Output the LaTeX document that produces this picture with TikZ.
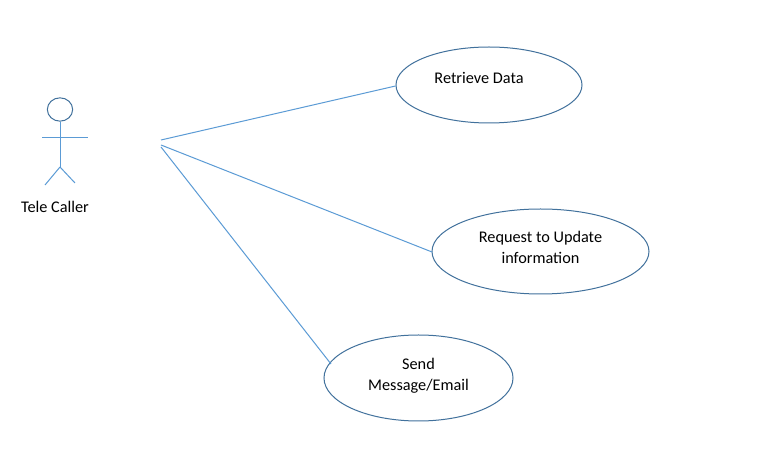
\documentclass[tikz,border=0pt]{standalone}
\usepackage{fontspec}
\setmainfont{Carlito}
\usetikzlibrary{shapes.geometric}
\definecolor{linecol}{HTML}{5B9BD5}
\definecolor{ellcol}{HTML}{41719C}
\tikzset{
  x=0.75pt,y=-0.75pt,
  usecase/.style={ellipse,draw=ellcol,line width=0.75pt,fill=white,inner sep=0pt,align=center,font=\fontsize{12.2pt}{15.75pt}\selectfont,text=black},
  conn/.style={draw=linecol,line width=0.75pt},
  stick/.style={draw=linecol,line width=0.75pt}
}
\begin{document}
\begin{tikzpicture}
\useasboundingbox[fill=white] (0,0) rectangle (758,466);
\node[usecase,minimum width=139.5pt,minimum height=57pt] (retrieve) at (489,85) {\raisebox{11pt}{Retrieve Data\hspace{15pt}}};
\node[usecase,minimum width=162.75pt,minimum height=63.75pt] (update) at (540.5,251.5) {\raisebox{5.5pt}{Request to Update}\\\raisebox{5.5pt}{information}};
\node[usecase,minimum width=141.75pt,minimum height=64.5pt] (send) at (418.5,378) {\raisebox{6pt}{Send}\\\raisebox{6pt}{Message/Email}};
\node[ellipse,draw=ellcol,line width=0.75pt,minimum width=19pt,minimum height=17.5pt,inner sep=0pt] (head) at (60,109.5) {};
\coordinate (hipc) at (60,167);
\coordinate (armL) at (42,138);
\coordinate (armR) at (88,138);
\coordinate (legL) at (45,185);
\coordinate (legR) at (75,183);
\draw[stick] (head.south) -- (hipc);
\draw[stick] (armL) -- (armR);
\draw[stick] (hipc) -- (legL);
\draw[stick] (hipc) -- (legR);
\node[font=\fontsize{12.2pt}{15pt}\selectfont,text=black] (actor) at (55,207) {Tele Caller};
\coordinate (a1) at (161,140);
\coordinate (a2) at (161,145);
\coordinate (a3) at (161,147);
\draw[conn] (a1) -- (retrieve.west|-0,86);
\draw[conn] (a2) -- (432,252);
\draw[conn] (a3) -- (331,364);
\end{tikzpicture}
\end{document}
